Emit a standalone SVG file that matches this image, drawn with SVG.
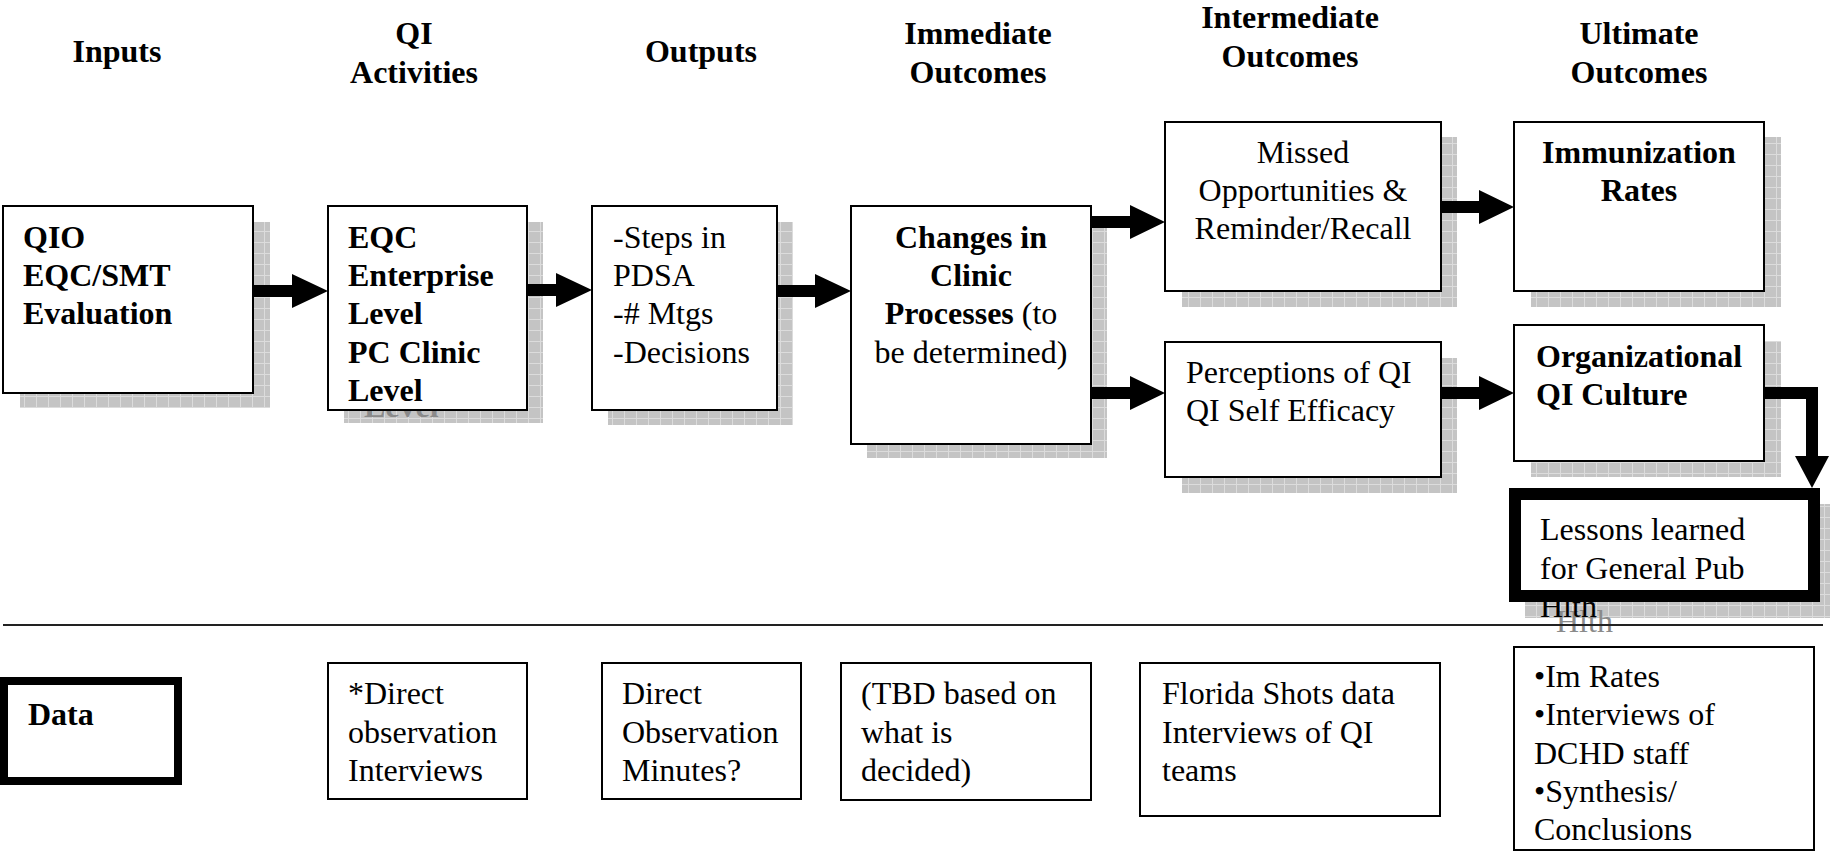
<svg xmlns="http://www.w3.org/2000/svg" width="1830" height="853" viewBox="0 0 1830 853">
<defs>
<pattern id="sh" width="12" height="11" patternUnits="userSpaceOnUse">
<rect width="12" height="11" fill="#c4c4c4"/>
<path d="M0 0.5H12M0.5 0V11" stroke="#dcdcdc" stroke-width="1" fill="none"/>
</pattern>
</defs>
<style>
text{font-family:"Liberation Serif","Times New Roman",serif;font-size:32px;fill:#000}
.b{font-weight:bold}
.m{text-anchor:middle}
.g{fill:#8a8a8a}
.box{fill:#fff;stroke:#000;stroke-width:2}
.shd{fill:url(#sh)}
.arr{fill:#000}
</style>
<rect width="1830" height="853" fill="#fff"/>

<g id="headers">
<text class="b m" x="117" y="62">Inputs</text>
<text class="b m" x="414" y="44">QI</text>
<text class="b m" x="414" y="83">Activities</text>
<text class="b m" x="701" y="62">Outputs</text>
<text class="b m" x="978" y="44">Immediate</text>
<text class="b m" x="978" y="83">Outcomes</text>
<text class="b m" x="1290" y="28">Intermediate</text>
<text class="b m" x="1290" y="67">Outcomes</text>
<text class="b m" x="1639" y="44">Ultimate</text>
<text class="b m" x="1639" y="83">Outcomes</text>
</g>

<g id="n-inputs">
<rect class="shd" x="20" y="222" width="250" height="186"/>
<rect class="box" x="3" y="206" width="250" height="187"/>
<text class="b" x="23" y="248">QIO</text>
<text class="b" x="23" y="286">EQC/SMT</text>
<text class="b" x="23" y="324">Evaluation</text>
</g>

<g id="n-activities">
<rect class="shd" x="344" y="222" width="199" height="201"/>
<text class="b g" x="364" y="417">Level</text>
<rect class="box" x="328" y="206" width="199" height="204"/>
<text class="b" x="348" y="248">EQC</text>
<text class="b" x="348" y="286">Enterprise</text>
<text class="b" x="348" y="324">Level</text>
<text class="b" x="348" y="363">PC Clinic</text>
<text class="b" x="348" y="401">Level</text>
</g>

<g id="n-outputs">
<rect class="shd" x="608" y="222" width="185" height="203"/>
<rect class="box" x="592" y="206" width="185" height="204"/>
<text x="613" y="248">-Steps in</text>
<text x="613" y="286">PDSA</text>
<text x="613" y="324">-# Mtgs</text>
<text x="613" y="363">-Decisions</text>
</g>

<g id="n-immediate">
<rect class="shd" x="867" y="222" width="240" height="236"/>
<rect class="box" x="851" y="206" width="240" height="238"/>
<text class="b m" x="971" y="248">Changes in</text>
<text class="b m" x="971" y="286">Clinic</text>
<text class="m" x="971" y="324"><tspan class="b">Processes</tspan> (to</text>
<text class="m" x="971" y="363">be determined)</text>
</g>

<g id="n-missed">
<rect class="shd" x="1182" y="137" width="275" height="170"/>
<rect class="box" x="1165" y="122" width="276" height="169"/>
<text class="m" x="1303" y="163">Missed</text>
<text class="m" x="1303" y="201">Opportunities &amp;</text>
<text class="m" x="1303" y="239">Reminder/Recall</text>
</g>

<g id="n-perceptions">
<rect class="shd" x="1182" y="358" width="275" height="135"/>
<rect class="box" x="1165" y="342" width="276" height="135"/>
<text x="1186" y="383">Perceptions of QI</text>
<text x="1186" y="421">QI Self Efficacy</text>
</g>

<g id="n-immunization">
<rect class="shd" x="1531" y="137" width="250" height="170"/>
<rect class="box" x="1514" y="122" width="250" height="169"/>
<text class="b m" x="1639" y="163">Immunization</text>
<text class="b m" x="1639" y="201">Rates</text>
</g>

<g id="n-culture">
<rect class="shd" x="1531" y="341" width="250" height="136"/>
<rect class="box" x="1514" y="325" width="250" height="136"/>
<text class="b" x="1536" y="367">Organizational</text>
<text class="b" x="1536" y="405">QI Culture</text>
</g>

<g id="n-lessons">
<rect class="shd" x="1525" y="504" width="305" height="114"/>
<text class="g" x="1556" y="632">Hlth</text>
<rect x="1515" y="494" width="299" height="102" fill="#fff" stroke="#000" stroke-width="12"/>
<text x="1540" y="540">Lessons learned</text>
<text x="1540" y="579">for General Pub</text>
<text x="1540" y="617">Hlth</text>
</g>

<g id="connectors">
<polygon class="arr" points="253,285 292,285 292,274 328,291 292,308 292,297 253,297"/>
<polygon class="arr" points="527,284 556,284 556,273 592,290 556,307 556,296 527,296"/>
<polygon class="arr" points="777,285 815,285 815,274 851,291 815,308 815,297 777,297"/>
<polygon class="arr" points="1091,216 1130,216 1130,205 1165,222 1130,239 1130,228 1091,228"/>
<polygon class="arr" points="1091,387 1130,387 1130,376 1165,393 1130,410 1130,399 1091,399"/>
<polygon class="arr" points="1441,201 1479,201 1479,190 1514,207 1479,224 1479,213 1441,213"/>
<polygon class="arr" points="1441,387 1479,387 1479,376 1514,393 1479,410 1479,399 1441,399"/>
<polygon class="arr" points="1764,387 1818,387 1818,456 1829,456 1812,488 1795,456 1806,456 1806,399 1764,399"/>
</g>

<g id="divider">
<line x1="3" y1="625" x2="1823" y2="625" stroke="#222" stroke-width="2"/>
</g>

<g id="n-data">
<rect x="4" y="681" width="174" height="100" fill="#fff" stroke="#000" stroke-width="8"/>
<text class="b" x="28" y="725">Data</text>
</g>

<g id="d-activities">
<rect class="box" x="328" y="663" width="199" height="136"/>
<text x="348" y="704">*Direct</text>
<text x="348" y="743">observation</text>
<text x="348" y="781">Interviews</text>
</g>

<g id="d-outputs">
<rect class="box" x="602" y="663" width="199" height="136"/>
<text x="622" y="704">Direct</text>
<text x="622" y="743">Observation</text>
<text x="622" y="781">Minutes?</text>
</g>

<g id="d-immediate">
<rect class="box" x="841" y="663" width="250" height="137"/>
<text x="861" y="704">(TBD based on</text>
<text x="861" y="743">what is</text>
<text x="861" y="781">decided)</text>
</g>

<g id="d-intermediate">
<rect class="box" x="1140" y="663" width="300" height="153"/>
<text x="1162" y="704">Florida Shots data</text>
<text x="1162" y="743">Interviews of QI</text>
<text x="1162" y="781">teams</text>
</g>

<g id="d-ultimate">
<rect class="box" x="1514" y="647" width="300" height="203"/>
<text x="1534" y="687">•Im Rates</text>
<text x="1534" y="725">•Interviews of</text>
<text x="1534" y="764">DCHD staff</text>
<text x="1534" y="802">•Synthesis/</text>
<text x="1534" y="840">Conclusions</text>
</g>
</svg>
